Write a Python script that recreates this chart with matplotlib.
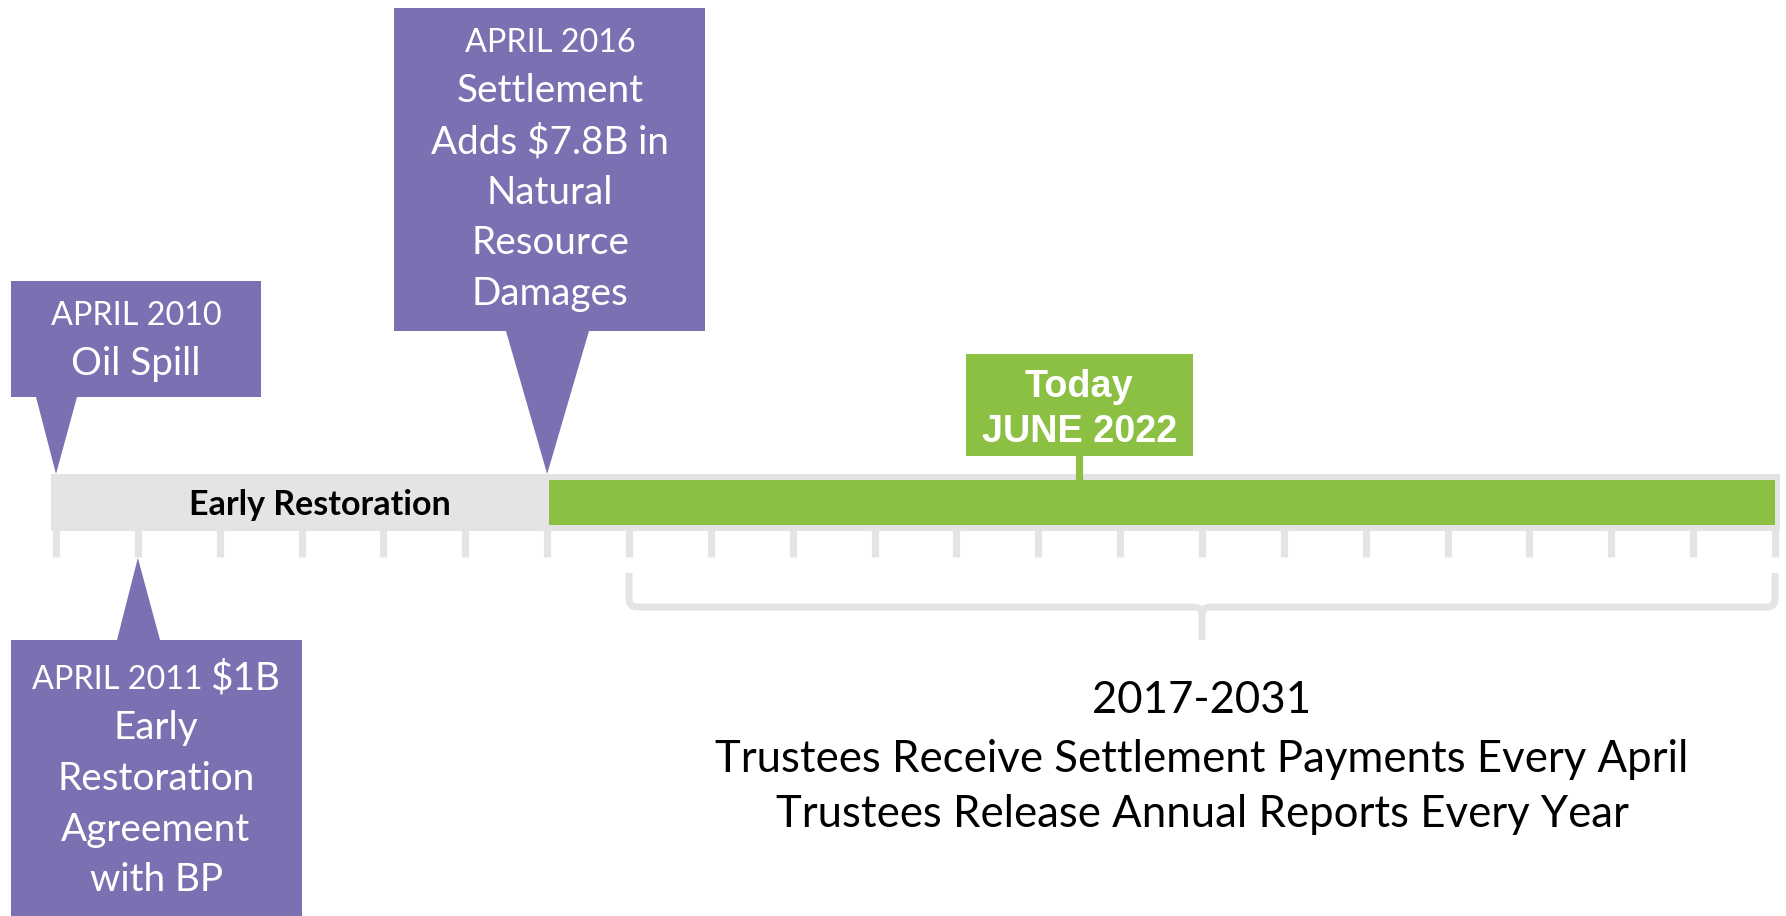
import numpy as np
import matplotlib
matplotlib.use("Agg")
import matplotlib.pyplot as plt
from matplotlib.patches import Rectangle, Polygon, PathPatch
from matplotlib.path import Path

# ---- data ----
years = np.arange(2010, 2032)
early_span = (2010, 2016)
payment_span = (2016, 2031)
today_year = 2022.5
early_label = "Early Restoration"
today_lines = ["Today", "JUNE 2022"]
event_years = [2010, 2016, 2011]
event_heads = ["APRIL 2010", "APRIL 2016", "APRIL 2011"]
event_bodies = [
    ["Oil Spill"],
    ["Settlement", "Adds $7.8B in", "Natural", "Resource", "Damages"],
    ["Early", "Restoration", "Agreement", "with BP"],
]
payment_lines = [
    "2017-2031",
    "Trustees Receive Settlement Payments Every April",
    "Trustees Release Annual Reports Every Year",
]

PURPLE = "#7B70B1"
GREEN = "#8CC043"
GREY = "#E4E4E4"
BODY_FONT = ["Lato", "DejaVu Sans"]
BOLD_FONT = ["Liberation Sans", "DejaVu Sans"]
HEAD_SIZE, BODY_SIZE = 23.3, 27.8

W, H = 1786, 916
X0_PX, PX_PER_YEAR = 56, 81.86


def px2yr(px):
    return 2010 + (px - X0_PX) / PX_PER_YEAR


fig = plt.figure(figsize=(W / 100, H / 100), dpi=100)
ax = fig.add_axes([0, 0, 1, 1])
ax.set_xlim(px2yr(0), px2yr(W))
ax.set_ylim(H, 0)
ax.axis("off")

# timeline base
pad = 0.06
ax.add_patch(Rectangle((years[0] - pad, 474), years[-1] - years[0] + 2 * pad, 57,
                       facecolor=GREY, edgecolor="none", zorder=1))
ax.vlines(years, 525, 557, color=GREY, lw=5.2, zorder=1)
ax.add_patch(Rectangle((payment_span[0] + 0.02, 480), payment_span[1] - payment_span[0] - 0.02, 45,
                       facecolor=GREEN, edgecolor="none", zorder=2))
ax.text((early_span[0] + early_span[1]) / 2 + 0.22, 515, early_label, ha="center",
        va="baseline", fontsize=24.5, fontweight="bold", family=BODY_FONT, color="black", zorder=3)

# today marker
ax.vlines(today_year, 450, 481, color=GREEN, lw=5.2, zorder=2)
tw = px2yr(1193) - px2yr(966)
ax.add_patch(Rectangle((today_year - tw / 2, 354), tw, 102, facecolor=GREEN,
                       edgecolor="none", zorder=3))
for line, base in zip(today_lines, [397, 442]):
    ax.text(today_year, base, line, ha="center", va="baseline", fontsize=27.3,
            fontweight="bold", family=BOLD_FONT, color="white", zorder=4)

# callouts: box (x0, x1, y0, y1 px), triangle base px, tip y, first baseline
layout = [
    dict(box=(11, 261, 281, 397), base=(36, 77), tip_y=474, y0=325, cx=136, gap=50.5),
    dict(box=(394, 705, 8, 331), base=(506, 589), tip_y=474, y0=52, cx=550, gap=50.5),
    dict(box=(11, 302, 640, 930), base=(117, 160), tip_y=558, y0=689, cx=156, gap=50.5),
]
renderer = fig.canvas.get_renderer()
for yr, head, body, lay in zip(event_years, event_heads, event_bodies, layout):
    bx0, bx1, by0, by1 = lay["box"]
    ax.add_patch(Rectangle((px2yr(bx0), by0), px2yr(bx1) - px2yr(bx0), by1 - by0,
                           facecolor=PURPLE, edgecolor="none", zorder=3))
    edge_y = by1 if lay["tip_y"] > by1 else by0
    ax.add_patch(Polygon([(px2yr(lay["base"][0]), edge_y), (px2yr(lay["base"][1]), edge_y),
                          (yr, lay["tip_y"])], closed=True, facecolor=PURPLE,
                         edgecolor="none", zorder=3))
    cx = px2yr(lay["cx"])
    if yr == 2011:
        # head and amount share a line with mixed sizes
        t1 = ax.text(0, 0, head + " ", fontsize=HEAD_SIZE, family=BODY_FONT, color="white")
        t2 = ax.text(0, 0, "$1B", fontsize=BODY_SIZE, family=BODY_FONT, color="white")
        w1 = t1.get_window_extent(renderer).width / PX_PER_YEAR
        w2 = t2.get_window_extent(renderer).width / PX_PER_YEAR
        left = cx - (w1 + w2) / 2
        for t, x in [(t1, left), (t2, left + w1)]:
            t.set_position((x, lay["y0"]))
            t.set_va("baseline")
            t.set_zorder(4)
        first = lay["y0"] + 2
    else:
        ax.text(cx, lay["y0"], head, ha="center", va="baseline", fontsize=HEAD_SIZE,
                family=BODY_FONT, color="white", zorder=4)
        first = lay["y0"]
    for i, line in enumerate(body):
        ax.text(cx, first + lay["gap"] * (i + 1) - (0 if yr != 2011 else 2), line,
                ha="center", va="baseline", fontsize=BODY_SIZE, family=BODY_FONT,
                color="white", zorder=4)

# bracket under payment years
bl, br = years[7], years[-1]
mid = (bl + br) / 2
rx, ry = 0.1, 8
top, line_y, tip = 573, 607, 640
verts = [
    (bl, top), (bl, line_y - ry), (bl, line_y), (bl + rx, line_y),
    (mid - rx, line_y), (mid, line_y), (mid, line_y + ry), (mid, tip),
    (mid, line_y + ry), (mid, line_y), (mid + rx, line_y),
    (br - rx, line_y), (br, line_y), (br, line_y - ry), (br, top),
]
codes = [Path.MOVETO, Path.LINETO, Path.CURVE3, Path.CURVE3,
         Path.LINETO, Path.CURVE3, Path.CURVE3, Path.LINETO,
         Path.MOVETO, Path.CURVE3, Path.CURVE3,
         Path.LINETO, Path.CURVE3, Path.CURVE3, Path.LINETO]
ax.add_patch(PathPatch(Path(verts, codes), facecolor="none", edgecolor=GREY,
                       lw=5, capstyle="butt", joinstyle="round", zorder=1))

for line, base in zip(payment_lines, [713, 772, 827]):
    ax.text(mid, base, line, ha="center", va="baseline", fontsize=31.5,
            family=BODY_FONT, color="black", zorder=4)

fig.savefig("out.png", dpi=100, facecolor="white")
